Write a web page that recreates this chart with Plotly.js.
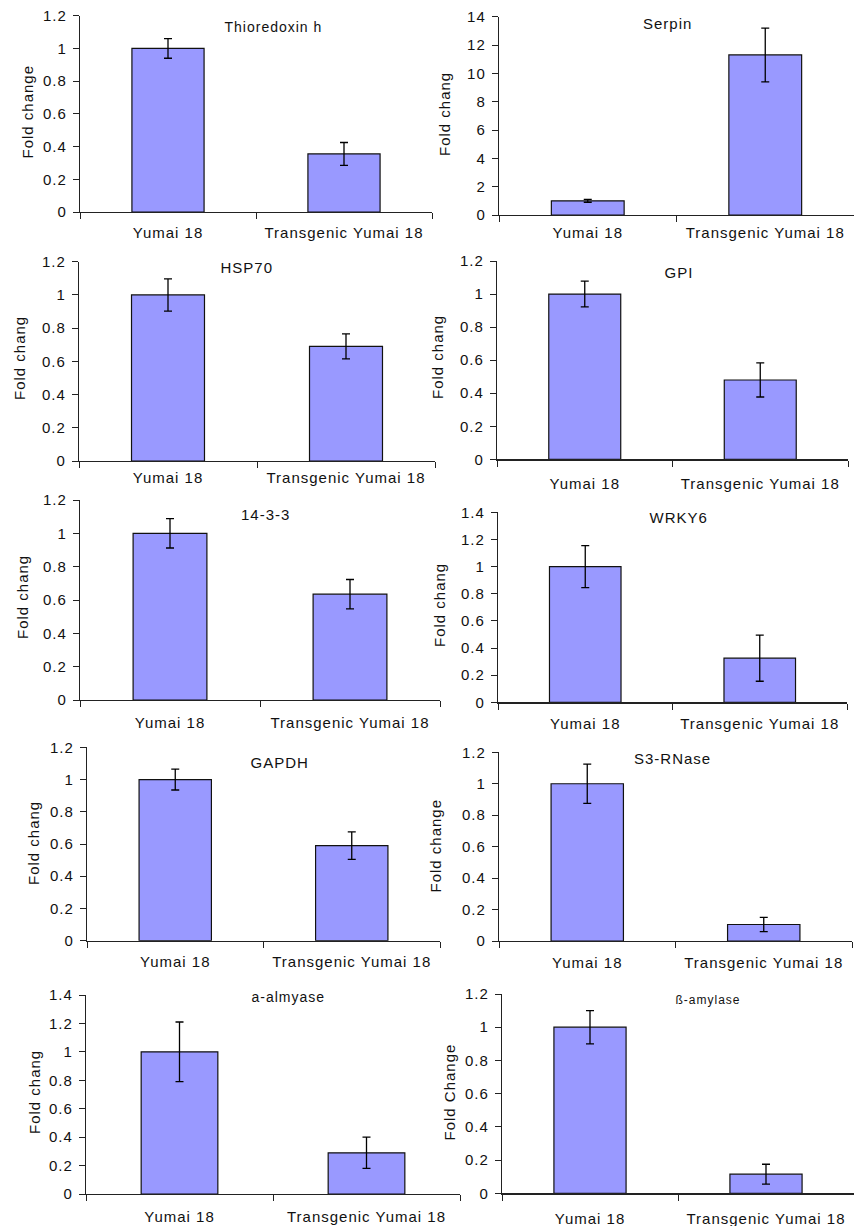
<!DOCTYPE html>
<html>
<head>
<meta charset="utf-8">
<script src="https://cdn.plot.ly/plotly-3.0.1.min.js"></script>
<style>
html,body{margin:0;padding:0;background:#fff;}
#chart{width:854px;height:1226px;}
.main-svg text{letter-spacing:1px;}
</style>
</head>
<body>
<div id="chart"></div>
<script>
// ---- data ----
const genes = ['Thioredoxin h','Serpin','HSP70','GPI','14-3-3','WRKY6','GAPDH','S3-RNase','a-almyase','ß-amylase'];
const categories = ['Yumai 18','Transgenic Yumai 18'];
const wildType      = [1.0, 1.0, 1.0, 1.0, 1.0, 1.0, 1.0, 1.0, 1.0, 1.0];
const wildTypeErr   = [0.06, 0.1, 0.097, 0.078, 0.088, 0.155, 0.065, 0.125, 0.21, 0.1];
const transgenic    = [0.355, 11.3, 0.69, 0.48, 0.635, 0.325, 0.59, 0.105, 0.29, 0.115];
const transgenicErr = [0.07, 1.9, 0.075, 0.103, 0.088, 0.17, 0.085, 0.045, 0.11, 0.06];
const yMax   = [1.2, 14, 1.2, 1.2, 1.2, 1.4, 1.2, 1.2, 1.4, 1.2];
const yDtick = [0.2, 2, 0.2, 0.2, 0.2, 0.2, 0.2, 0.2, 0.2, 0.2];
const yTitles = ['Fold change','Fold chang','Fold chang','Fold chang','Fold chang','Fold chang','Fold chang','Fold change','Fold chang','Fold Change'];

// ---- layout geometry (pixels) ----
const W = 854, H = 1226;
const panels = [
  {x0:80,  x1:432, yTop:15.7,  yBot:212,   tx:273, ty:27,   ax:28,  ay:112,  lab:7,  tf:14},
  {x0:499, x1:854, yTop:16.7,  yBot:215,   tx:667, ty:23,   ax:445, ay:114,  lab:4,  tf:15},
  {x0:79,  x1:435, yTop:261.7, yBot:461,   tx:247, ty:268,  ax:19,  ay:358,  lab:3,  tf:15},
  {x0:497, x1:848, yTop:261,   yBot:459.3, tx:679, ty:272,  ax:437, ay:357,  lab:10, tf:15},
  {x0:80,  x1:440, yTop:500,   yBot:700,   tx:265, ty:514,  ax:22,  ay:597,  lab:9,  tf:15},
  {x0:498, x1:847, yTop:512.3, yBot:702.3, tx:678, ty:517,  ax:440, ay:605,  lab:7,  tf:15},
  {x0:87,  x1:440, yTop:747.3, yBot:940.7, tx:279, ty:762,  ax:33,  ay:843,  lab:7,  tf:15},
  {x0:499, x1:852, yTop:752.3, yBot:941,   tx:672, ty:758,  ax:436, ay:846,  lab:8,  tf:15},
  {x0:86,  x1:460, yTop:995,   yBot:1194,  tx:288, ty:997,  ax:34,  ay:1092, lab:9,  tf:14},
  {x0:502, x1:854, yTop:994,   yBot:1193.3,tx:708, ty:1000, ax:449, ay:1092, lab:11, tf:12}
];

const FONT = 'Liberation Sans, Arial, sans-serif';
const INK = '#111';
const traces = [];
const annotations = [];
const layout = {
  width: W, height: H,
  margin: {l:0, r:0, t:0, b:0},
  paper_bgcolor: '#fff', plot_bgcolor: '#fff',
  showlegend: false,
  font: {family: FONT, size: 15, color: INK},
  annotations: annotations
};

genes.forEach((g, i) => {
  const p = panels[i];
  const n = i + 1;
  const xa = n === 1 ? 'x' : 'x' + n;
  const ya = n === 1 ? 'y' : 'y' + n;
  traces.push({
    type: 'bar',
    x: categories,
    y: [wildType[i], transgenic[i]],
    error_y: {type: 'data', array: [wildTypeErr[i], transgenicErr[i]], visible: true,
              color: '#000', thickness: 1.3, width: 4},
    marker: {color: '#9999ff', line: {color: '#111', width: 1.2}},
    width: 0.41,
    xaxis: xa, yaxis: ya,
    hoverinfo: 'skip'
  });
  layout['xaxis' + (n === 1 ? '' : n)] = {
    domain: [p.x0 / W, p.x1 / W], anchor: ya,
    type: 'category', range: [-0.5, 1.5],
    showline: true, linecolor: '#222', linewidth: 1.2,
    ticks: 'outside', tickson: 'boundaries', ticklen: 6, tickcolor: '#222', tickwidth: 1,
    tickangle: 0, showgrid: false, zeroline: false,
    tickfont: {family: FONT, size: 15, color: INK},
    ticklabelstandoff: p.lab,
    fixedrange: true
  };
  layout['yaxis' + (n === 1 ? '' : n)] = {
    domain: [1 - p.yBot / H, 1 - p.yTop / H], anchor: xa,
    range: [0, yMax[i]], tick0: 0, dtick: yDtick[i],
    showline: true, linecolor: '#222', linewidth: 1.2,
    ticks: 'outside', ticklen: 6, tickcolor: '#222', tickwidth: 1,
    showgrid: false, zeroline: false,
    tickfont: {family: FONT, size: 15, color: INK},
    ticklabelstandoff: 3,
    fixedrange: true
  };
  annotations.push({
    text: g, xref: 'paper', yref: 'paper', x: p.tx / W, y: 1 - p.ty / H,
    xanchor: 'center', yanchor: 'middle', showarrow: false,
    font: {family: FONT, size: p.tf, color: INK}
  });
  annotations.push({
    text: yTitles[i], xref: 'paper', yref: 'paper', x: p.ax / W, y: 1 - p.ay / H,
    xanchor: 'center', yanchor: 'middle', showarrow: false, textangle: -90,
    font: {family: FONT, size: 15, color: INK}
  });
});

Plotly.newPlot('chart', traces, layout, {staticPlot: true, displayModeBar: false});
</script>
</body>
</html>
